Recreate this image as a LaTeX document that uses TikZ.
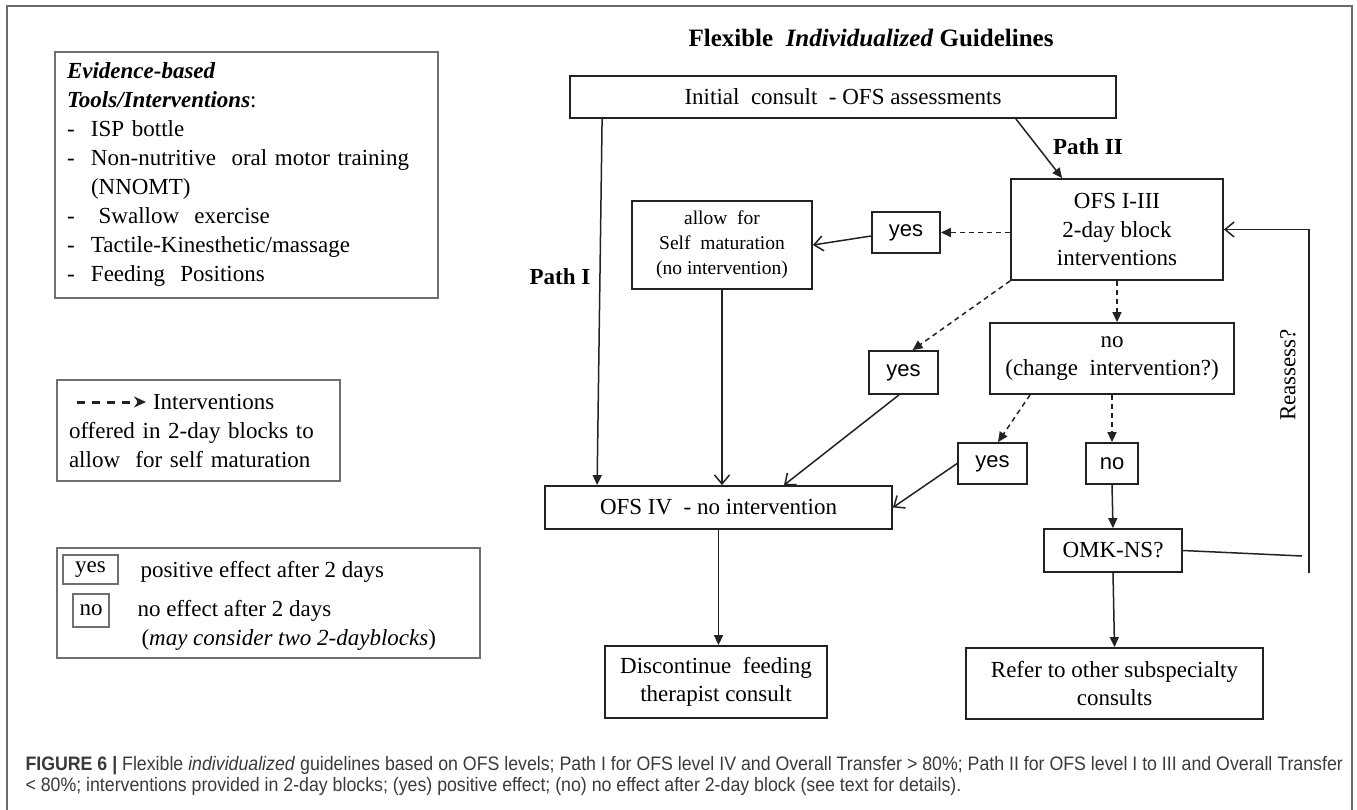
\documentclass[tikz,border=0pt]{standalone}
\usepackage{fontspec}
\setmainfont{Liberation Serif}
\newfontfamily\capsans{Liberation Sans}
\newfontfamily\captionfont[FakeStretch=0.91]{Liberation Sans}
\usetikzlibrary{arrows.meta}
\definecolor{boxline}{HTML}{222222}
\definecolor{legline}{HTML}{707070}
\definecolor{framegray}{HTML}{6A6A6A}
\definecolor{captext}{HTML}{3A3A3A}
\tikzset{
  flowbox/.style={draw=boxline,line width=1.8pt,inner sep=0pt,align=center,
    font=\fontsize{23}{28.5}\selectfont},
  smallbox/.style={flowbox,font=\capsans\fontsize{22}{26}\selectfont},
  legbox/.style={draw=legline,line width=1.5pt,inner sep=0pt,
    font=\fontsize{23}{29}\selectfont},
  arr/.style={draw=boxline,line width=1.5pt,-{Triangle[length=10pt,width=9pt]}},
  oarr/.style={draw=boxline,line width=1.5pt,-{Straight Barb[length=9pt,width=15pt]}},
  darr/.style={arr,dash pattern=on 5pt off 4pt},
  pathlabel/.style={font=\bfseries\fontsize{23}{28}\selectfont},
  captionline/.style={anchor=base west,text=captext,font=\captionfont\fontsize{19.5}{21}\selectfont}
}
\begin{document}
\begin{tikzpicture}[x=1pt,y=-1pt]
      \useasboundingbox (0,0) rectangle (1357,810);
      \draw[framegray,line width=2pt] (7,812) -- (7,6) -- (1352,6) -- (1352,812);
      \node[legbox,minimum width=383,minimum height=246,text width=359,
        inner xsep=12pt,align=left] (tools) at (246.5,175) {%
        \textbf{\textit{Evidence-based}}\\
        \textbf{\textit{Tools/Interventions}}:\\
        \makebox[24pt][l]{-}ISP bottle\\
        \makebox[24pt][l]{-}Non-nutritive\ \ oral motor training\\
        \hspace*{24pt}(NNOMT)\\
        \makebox[24pt][l]{-}\ Swallow\ \ exercise\\
        \makebox[24pt][l]{-}Tactile-Kinesthetic/massage\\
        \makebox[24pt][l]{-}Feeding\ \ Positions};
      \node[legbox,minimum width=283,minimum height=101,text width=259,
        inner xsep=12pt,align=left] (dashkey) at (198.5,430.5) {%
        \hspace*{84pt}Interventions\\
        offered in 2-day blocks to\\
        allow\ \ for self maturation};
      \coordinate (keyfrom) at (77,402);
      \coordinate (keyto) at (146,402);
      \draw[arr,line width=3pt,dash pattern=on 8pt off 7pt,
        -{Stealth[length=12pt,width=11pt]}] (keyfrom) -- (keyto);
      \node[legbox,minimum width=423,minimum height=110] (effectkey) at (268.5,603) {};
      \node[legbox,minimum width=55,minimum height=29] (keyyes) at (90.5,569.5) {yes};
      \node[legbox,minimum width=36,minimum height=33] (keyno) at (91,610.5) {no};
      \node[anchor=base west,font=\fontsize{23}{28}\selectfont] (keyyestxt) at (137,577) {positive effect after 2 days};
      \node[anchor=base west,font=\fontsize{23}{28}\selectfont] (keynotxt) at (134,616) {no effect after 2 days};
      \node[anchor=base west,font=\fontsize{23}{28}\selectfont] (keynote) at (138,645) {(\textit{may consider two 2-dayblocks})};
      \node[font=\bfseries\fontsize{25}{30}\selectfont] (title) at (871,38) {Flexible\ \ \textit{Individualized} Guidelines};
      \node[flowbox,minimum width=546,minimum height=42] (init) at (843,97) {Initial\ \ consult\ \ - OFS assessments};
      \node[flowbox,minimum width=212,minimum height=101] (ofs13) at (1117,229.5) {OFS I-III\\2-day block\\interventions};
      \node[smallbox,minimum width=68,minimum height=41] (yes1) at (906,232.5) {yes};
      \node[flowbox,minimum width=180,minimum height=88,
        font=\fontsize{19.5}{25}\selectfont] (allow) at (722,245) {allow\ \ for\\Self\ \ maturation\\(no intervention)};
      \node[smallbox,minimum width=69,minimum height=43] (yes2) at (903.5,372.5) {yes};
      \node[flowbox,minimum width=244,minimum height=71] (nochange) at (1112,358.5) {no\\(change\ \ intervention?)};
      \node[smallbox,minimum width=69,minimum height=41] (yes3) at (992.5,463.5) {yes};
      \node[smallbox,minimum width=52,minimum height=41] (no) at (1112,463.5) {no};
      \node[flowbox,minimum width=347,minimum height=43] (ofsiv) at (718.5,507.5) {OFS IV\ \ - no intervention};
      \node[flowbox,minimum width=138,minimum height=43] (omk) at (1113,550.5) {OMK-NS?};
      \node[flowbox,minimum width=222,minimum height=72] (stop) at (716,682) {Discontinue\ \ feeding\\therapist consult};
      \node[flowbox,minimum width=297,minimum height=71] (refer) at (1114.5,683.5) {Refer to other subspecialty\\consults};
      \node[pathlabel] (path1) at (560,277) {Path I};
      \node[pathlabel] (path2) at (1088,147) {Path II};
      \node[rotate=90,font=\fontsize{23}{28}\selectfont] (reassess) at (1288,375) {Reassess?};
      \coordinate (omkend) at (1302,556);
      \coordinate (loopbot) at (1309,573);
      \begin{scope}
        \draw[arr] ([xshift=33pt]init.south west) to ([xshift=53pt]ofsiv.north west);
        \draw[arr] ([xshift=-101pt]init.south east) to ([xshift=52pt]ofs13.north west);
        \draw[darr] (yes1.east -| ofs13.west) to (yes1.east);
        \draw[oarr] ([yshift=-3.5pt]yes1.west) to (allow.east);
        \draw[oarr] (allow.south) to (allow.south |- ofsiv.north);
        \draw[darr] (ofs13.south west) to ([xshift=9pt]yes2.north);
        \draw[oarr] ([xshift=-4.5pt]yes2.south) to ([xshift=65.5pt]ofsiv.north);
        \draw[darr] (ofs13.south) to (ofs13.south |- nochange.north);
        \draw[darr] ([xshift=-82pt]nochange.south) to ([xshift=5.5pt]yes3.north);
        \draw[oarr] (yes3.west) to (ofsiv.east);
        \draw[darr] (nochange.south) to (no.north);
        \draw[arr] (no.south) to (omk.north);
        \draw[arr] (omk.south) to (refer.north);
        \draw[arr] (ofsiv.south) to (ofsiv.south |- stop.north);
        \draw[boxline,line width=1.5pt] (omk.east) to (omkend);
        \draw[oarr] (loopbot) |- (ofs13.east);
      \end{scope}
      \node[captionline] (capline1) at (22,770)
        {\textbf{FIGURE 6 |} Flexible \textit{individualized} guidelines based on OFS levels; Path I for OFS level IV and Overall Transfer > 80\%; Path II for OFS level I to III and Overall Transfer};
      \node[captionline] (capline2) at (22,791)
        {< 80\%; interventions provided in 2-day blocks; (yes) positive effect; (no) no effect after 2-day block (see text for details).};
    \end{tikzpicture}
\end{document}
